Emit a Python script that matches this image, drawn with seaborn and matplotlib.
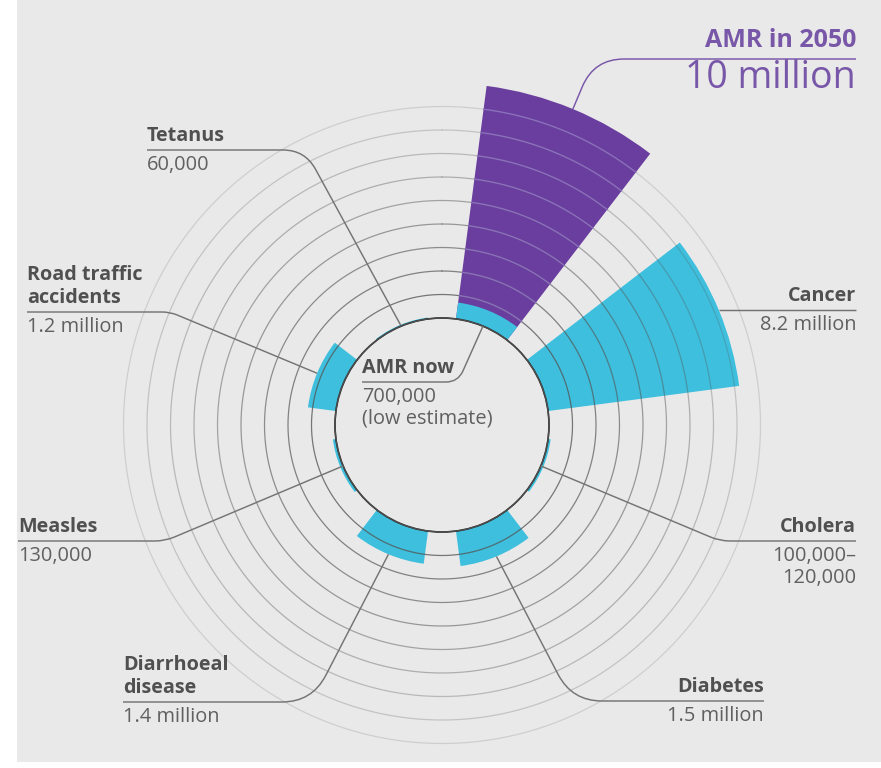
import numpy as np
import pandas as pd
import matplotlib
matplotlib.use("Agg")
import matplotlib.pyplot as plt
from matplotlib.path import Path
from matplotlib.patches import PathPatch, Rectangle
import seaborn as sns

# ---------------- data ----------------
causes = ["AMR now", "Cancer", "Cholera", "Diabetes", "Diarrhoeal\ndisease",
          "Measles", "Road traffic\naccidents", "Tetanus"]
deaths_millions = [0.7, 8.2, 0.11, 1.5, 1.4, 0.13, 1.2, 0.06]
value_labels = ["700,000\n(low estimate)", "8.2 million", "100,000–\n120,000",
                "1.5 million", "1.4 million", "130,000", "1.2 million", "60,000"]
amr_2050_name = "AMR in 2050"
amr_2050_millions = 10.0
amr_2050_text = "10 million"

# ---------------- style ----------------
W, H = 881, 768
sns.set_theme(style="white")
plt.rcParams["font.family"] = ["Open Sans", "DejaVu Sans"]

BG = "#e9e9e9"
CYAN = "#3ebfdd"
PURPLE = "#6a3e9f"
PURPLE_TXT = "#7856a8"
NAME_C = "#505050"
VAL_C = "#606060"
LINE_C = "#747474"
NAME_FS = 14.2
VAL_FS = 14.4

fig = plt.figure(figsize=(W / 100, H / 100), dpi=100, facecolor="white")
fig.patches.append(Rectangle((17 / W, 1 - 762 / H), 1 - 17 / W, 762 / H,
                             transform=fig.transFigure, facecolor=BG,
                             edgecolor="none", zorder=-10))

# polar geometry (image pixels)
cx, cy = 442, 425
inner = 107.0
ppu = 23.5
rmax = 10.4
R = inner + rmax * ppu
ax = fig.add_axes([(cx - R) / W, (H - cy - R) / H, 2 * R / W, 2 * R / H],
                  projection="polar")
ax.set_zorder(1)
ax.set_theta_zero_location("N")
ax.set_theta_direction(-1)
ax.patch.set_alpha(0)

n = len(causes)
step = 2 * np.pi / n
theta = (np.arange(n) + 0.5) * step
bar_w = np.deg2rad(30)

df_now = pd.DataFrame({"theta": theta, "deaths": deaths_millions, "cause": causes})
df_2050 = pd.DataFrame({"theta": [theta[0]], "deaths": [amr_2050_millions]})

sns.barplot(data=df_2050, x="theta", y="deaths", native_scale=True, orient="x",
            width=bar_w, color=PURPLE, saturation=1, errorbar=None,
            linewidth=0, ax=ax)
sns.barplot(data=df_now, x="theta", y="deaths", native_scale=True, orient="x",
            width=bar_w / step, color=CYAN, saturation=1, errorbar=None,
            linewidth=0, ax=ax)

ax.set_xlim(0, 2 * np.pi)
ax.set_ylim(0, rmax)
ax.set_rorigin(-inner / ppu)
ax.set_xticks([])
ax.set_yticks([])
ax.grid(False)
ax.set_xlabel("")
ax.set_ylabel("")
for s in ax.spines.values():
    s.set_visible(False)

# ---------------- overlay (rings, leaders, labels) ----------------
fig.canvas.draw()
ov = fig.add_axes([0, 0, 1, 1])
ov.set_zorder(2)
ov.set_xlim(0, W)
ov.set_ylim(H, 0)
ov.axis("off")
ov.patch.set_alpha(0)


def to_img(th, r):
    x, y = ax.transData.transform((th, r))
    return float(x), float(H - y)


def curve_img(th, r):
    pts = ax.transData.transform(np.column_stack([th, r]))
    return pts[:, 0], H - pts[:, 1]


# concentric rings on top of the bars
tt = np.linspace(0, 2 * np.pi, 1441)
for k in range(10):
    xs, ys = curve_img(tt, np.full_like(tt, float(k)))
    ov.plot(xs, ys, color="#555555", alpha=0.85 - 0.075 * k, lw=0.9, zorder=3)
# lighter ring lines inside the purple bar
arc = np.linspace(theta[0] - bar_w / 2, theta[0] + bar_w / 2, 100)
for k in range(1, 10):
    xs, ys = curve_img(arc, np.full_like(arc, float(k)))
    ov.plot(xs, ys, color="#8b70bc", lw=1.0, zorder=4)


def leader(p_end, corner, anc, rc, color=LINE_C):
    if corner is None:
        verts = [p_end, anc]
        codes = [Path.MOVETO, Path.LINETO]
    else:
        x0, y0 = p_end
        cxx, cyy = corner
        d = np.sign(cxx - x0)
        A = (cxx - d * rc, cyy)
        v = np.array([anc[0] - cxx, anc[1] - cyy])
        v = v / np.linalg.norm(v)
        B = (cxx + v[0] * rc, cyy + v[1] * rc)
        verts = [p_end, A, corner, B, anc]
        codes = [Path.MOVETO, Path.LINETO, Path.CURVE3, Path.CURVE3, Path.LINETO]
    ov.add_patch(PathPatch(Path(verts, codes), facecolor="none",
                           edgecolor=color, lw=1.05, zorder=5))


def put_lines(x, baseline, lines, ha, fs, weight, color, gap):
    for i, s in enumerate(lines):
        ov.text(x, baseline + i * gap, s, ha=ha, va="baseline", fontsize=fs,
                fontweight=weight, color=color, zorder=6)


# layout: side, text x, line y, corner, corner radius, anchor at outer edge?
layout = [
    ("l", 362, 382, (458, 382), 12, False),
    ("r", 856, None, None, 0, True),
    ("r", 856, 541, (720, 541), 10, False),
    ("r", 764, 701, (572, 701), 30, True),
    ("l", 123, 702, (312, 702), 30, True),
    ("l", 18, 541, (165, 541), 10, False),
    ("l", 27, 312, (170, 312), 8, True),
    ("l", 147, 150, (305, 150), 22, True),
]

for i, (side, tx, ly, corner, rc, outer) in enumerate(layout):
    anc = to_img(theta[i], deaths_millions[i] if outer else 0.0)
    if ly is None:
        ly = anc[1]
        leader(anc, None, (tx, ly), 0)
    else:
        leader((tx, ly), corner, anc, rc)
    ha = "left" if side == "l" else "right"
    names = causes[i].split("\n")
    put_lines(tx, ly - 9 - 23 * (len(names) - 1), names, ha, NAME_FS, "bold",
              NAME_C, 23)
    put_lines(tx, ly + 20, value_labels[i].split("\n"), ha, VAL_FS, "normal",
              VAL_C, 21.5)

# AMR in 2050 callout
anc = to_img(theta[0], amr_2050_millions)
leader((856, 59), (594, 59), anc, 30, color=PURPLE_TXT)
ov.text(856, 47, amr_2050_name, ha="right", va="baseline", fontsize=18,
        fontweight="bold", color=PURPLE_TXT, zorder=6)
ov.text(856, 88, amr_2050_text, ha="right", va="baseline", fontsize=27,
        color=PURPLE_TXT, zorder=6)

fig.savefig("out.png", dpi=100, facecolor="white")
